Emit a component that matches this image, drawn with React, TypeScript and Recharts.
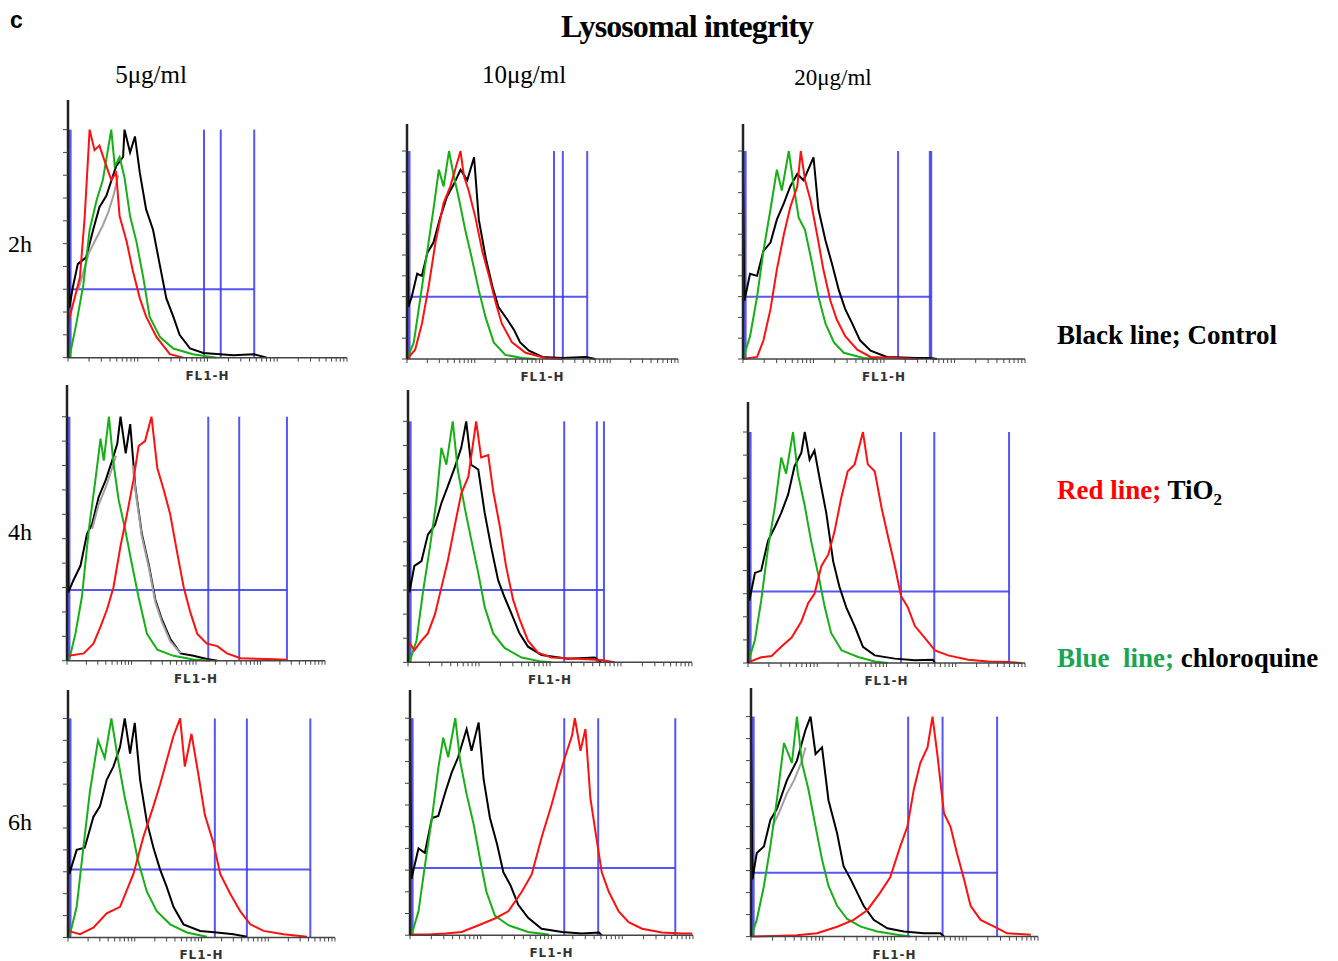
import { LineChart, Line, XAxis, YAxis, ReferenceLine } from 'recharts'

type Pt = [number, number | null]

// x = log decade of FL1-H (0..4), y = relative cell count (% of peak)
const p1Control: Pt[] = [[0,0],[0,88],[0.02,22],[0.07,31],[0.14,41],[0.26,44],[0.36,56],[0.45,66],[0.55,71],[0.69,84],[0.79,88],[0.81,100],[0.89,90],[0.96,97],[1.03,81],[1.12,65],[1.22,56],[1.32,40],[1.41,26],[1.51,18],[1.6,10],[1.75,4],[1.94,2],[2.37,1],[2.66,1.5],[2.85,0]]
const p1Gray: Pt[] = [[0.15,30],[0.3,46],[0.4,52],[0.5,58],[0.58,64],[0.66,72],[0.72,80]]
const p1TiO2: Pt[] = [[0,15],[0.17,35],[0.24,62],[0.31,100],[0.38,91],[0.45,93],[0.55,84],[0.62,78],[0.69,81],[0.74,62],[0.84,51],[0.93,38],[1.03,26],[1.12,18],[1.27,9],[1.46,1.5],[1.65,0]]
const p1Chloro: Pt[] = [[0.02,0],[0.12,15],[0.22,32],[0.31,56],[0.41,69],[0.5,78],[0.62,100],[0.67,84],[0.74,88],[0.81,79],[0.89,62],[0.98,51],[1.08,35],[1.17,18],[1.32,9],[1.51,4],[1.79,1.5],[2.13,0]]

const p2Control: Pt[] = [[0,0],[0,88],[0.02,25],[0.07,30],[0.15,41],[0.22,40],[0.3,51],[0.39,56],[0.49,68],[0.59,78],[0.69,84],[0.79,91],[0.89,86],[0.99,97],[1.06,67],[1.16,49],[1.26,35],[1.35,25],[1.48,19],[1.58,14],[1.67,8],[1.8,4],[2.0,1],[2.29,0.5],[2.64,1],[2.78,0]]
const p2TiO2: Pt[] = [[0,0],[0.12,4.5],[0.22,17],[0.32,35],[0.42,56],[0.54,75],[0.64,83],[0.71,91],[0.79,100],[0.84,88],[0.91,81],[1.01,68],[1.11,52],[1.21,40],[1.31,27],[1.4,17],[1.55,8],[1.75,3],[2.04,0.5],[2.29,0]]
const p2Chloro: Pt[] = [[0,0],[0.1,8],[0.2,30],[0.3,52],[0.39,72],[0.47,91],[0.54,83],[0.62,100],[0.69,88],[0.76,78],[0.86,62],[0.96,48],[1.06,33],[1.16,20],[1.28,8],[1.45,2],[1.7,0.5],[1.9,0]]

const p3Control: Pt[] = [[0,0],[0,88],[0.02,28],[0.1,41],[0.2,40],[0.29,52],[0.39,56],[0.48,67],[0.58,75],[0.67,83],[0.77,89],[0.86,86],[1.0,97],[1.07,72],[1.17,57],[1.26,46],[1.36,33],[1.45,24],[1.55,17],[1.66,9],[1.81,4],[2.04,1],[2.47,0.5],[2.66,0.5],[2.75,0]]
const p3TiO2: Pt[] = [[0,0],[0.2,1],[0.29,9],[0.39,24],[0.48,43],[0.58,60],[0.67,73],[0.77,83],[0.82,100],[0.88,86],[0.96,76],[1.05,60],[1.14,43],[1.24,28],[1.33,19],[1.45,11],[1.62,4.5],[1.81,1],[2.18,0.5],[2.47,0]]
const p3Chloro: Pt[] = [[0,0],[0.1,11],[0.2,30],[0.29,52],[0.39,72],[0.48,91],[0.55,81],[0.65,100],[0.72,83],[0.79,68],[0.88,62],[0.98,46],[1.07,30],[1.17,17],[1.29,8],[1.43,3],[1.71,0.5],[1.9,0]]

const p4Control: Pt[] = [[0,0],[0,88],[0.02,28],[0.1,33],[0.21,39],[0.31,52],[0.39,56],[0.49,67],[0.6,74],[0.7,82],[0.78,89],[0.83,100],[0.91,85],[0.98,97],[1.06,71],[1.16,52],[1.27,39],[1.37,25],[1.47,17],[1.6,9],[1.76,3],[1.96,2],[2.17,0.7],[2.33,0]]
const p4Gray: Pt[] = [[0.39,54],[0.49,64],[0.6,71],[0.7,79],[0.76,84],[0.9,null],[1.02,80],[1.06,70],[1.16,51],[1.27,38],[1.37,24],[1.47,16],[1.6,8],[1.76,3]]
const p4TiO2: Pt[] = [[0.03,2],[0.26,3],[0.41,7],[0.52,14],[0.62,21],[0.72,30],[0.83,47],[0.93,60],[1.03,74],[1.11,88],[1.21,90],[1.31,100],[1.4,79],[1.5,70],[1.6,60],[1.71,44],[1.81,30],[1.91,20],[2.02,11],[2.17,7],[2.33,6],[2.48,3],[2.69,1],[3.1,0.7],[3.41,0.4]]
const p4Chloro: Pt[] = [[0.03,0],[0.13,11],[0.23,26],[0.34,54],[0.44,74],[0.52,91],[0.57,82],[0.65,100],[0.72,81],[0.8,66],[0.9,54],[1.01,39],[1.11,26],[1.24,11],[1.4,4.5],[1.65,2],[1.96,0.5],[2.22,0]]

const p5Control: Pt[] = [[0,0],[0,88],[0.02,29],[0.09,40],[0.19,42],[0.28,53],[0.38,57],[0.47,66],[0.56,73],[0.66,81],[0.75,89],[0.82,100],[0.89,82],[0.99,80],[1.08,62],[1.17,48],[1.27,34],[1.36,27],[1.46,20],[1.57,12],[1.69,6.5],[1.88,3],[2.25,1.5],[2.63,2],[2.72,0]]
const p5TiO2: Pt[] = [[0,9],[0.09,5],[0.19,9],[0.28,12],[0.38,20],[0.47,31],[0.56,42],[0.66,57],[0.75,70],[0.85,77],[0.96,100],[1.03,85],[1.13,86],[1.2,71],[1.29,57],[1.38,40],[1.48,26],[1.57,18],[1.69,9],[1.83,4],[2.02,2],[2.39,1.5],[2.72,1],[2.91,0]]
const p5Chloro: Pt[] = [[0.02,0],[0.12,9],[0.21,29],[0.31,48],[0.4,67],[0.47,89],[0.54,82],[0.63,100],[0.7,80],[0.8,64],[0.89,51],[0.99,37],[1.08,23],[1.2,12],[1.36,6],[1.6,2],[1.88,0.3],[2.02,0]]

const p6Control: Pt[] = [[0,0],[0,88],[0.02,27],[0.1,39],[0.19,40],[0.29,53],[0.39,59],[0.48,65],[0.58,73],[0.67,85],[0.77,91],[0.82,100],[0.89,88],[0.96,92],[1.04,79],[1.13,65],[1.23,44],[1.32,33],[1.42,24],[1.54,16],[1.66,7],[1.83,3.3],[2.12,1.9],[2.41,1.2],[2.67,1.4],[2.7,0]]
const p6TiO2: Pt[] = [[0.02,0.5],[0.19,2.5],[0.34,3],[0.48,7],[0.63,11],[0.77,18],[0.87,26],[0.96,30],[1.06,42],[1.16,47],[1.25,57],[1.35,72],[1.44,83],[1.54,86],[1.66,100],[1.73,86],[1.83,83],[1.93,67],[2.02,55],[2.12,42],[2.21,29],[2.31,24],[2.41,16],[2.55,11],[2.7,5.5],[2.89,3.3],[3.18,1.4],[3.47,0.7],[3.75,0.4],[3.95,0]]
const p6Chloro: Pt[] = [[0,0],[0.1,10],[0.19,27],[0.29,50],[0.39,68],[0.48,89],[0.55,82],[0.65,100],[0.72,82],[0.82,68],[0.91,53],[1.01,39],[1.11,24],[1.2,13],[1.35,5.5],[1.59,2.6],[1.83,0.7],[2.02,0]]

const p7Control: Pt[] = [[0,0],[0,88],[0.02,29],[0.13,40],[0.25,41],[0.38,55],[0.48,60],[0.58,72],[0.68,78],[0.78,87],[0.85,100],[0.93,84],[1.0,98],[1.08,72],[1.18,53],[1.28,41],[1.38,31],[1.48,23],[1.58,14],[1.73,6],[1.98,3],[2.23,2.3],[2.48,1.5],[2.68,0.3]]
const p7TiO2: Pt[] = [[0,3],[0.18,1.5],[0.38,4.5],[0.58,11],[0.78,14],[0.98,29],[1.13,46],[1.28,60],[1.38,70],[1.48,81],[1.58,92],[1.68,100],[1.75,78],[1.85,93],[1.95,75],[2.05,56],[2.18,43],[2.28,29],[2.43,20],[2.58,12],[2.73,6],[2.93,3],[3.23,1.5],[3.58,0.3]]
const p7Chloro: Pt[] = [[0.03,1.5],[0.13,14],[0.23,41],[0.33,67],[0.45,90],[0.55,82],[0.65,100],[0.75,81],[0.85,64],[0.95,50],[1.05,35],[1.18,21],[1.33,12],[1.53,6],[1.78,2.3],[2.08,0.3]]

const p8Control: Pt[] = [[0,0],[0,88],[0.02,26],[0.12,40],[0.21,38],[0.31,54],[0.4,55],[0.5,66],[0.59,75],[0.68,82],[0.8,95],[0.87,85],[0.97,98],[1.04,72],[1.13,54],[1.23,42],[1.32,29],[1.42,23],[1.53,14],[1.67,8],[1.86,3],[2.15,1.5],[2.43,0.8],[2.67,1.2],[2.71,0]]
const p8TiO2: Pt[] = [[0,0.3],[0.26,0.3],[0.5,0.8],[0.73,1.5],[0.97,4.6],[1.2,7.7],[1.39,11],[1.58,20],[1.72,28],[1.86,45],[2.0,60],[2.1,72],[2.19,82],[2.29,92],[2.33,100],[2.41,85],[2.48,95],[2.55,63],[2.62,48],[2.71,29],[2.81,20],[2.95,11],[3.09,6],[3.28,3],[3.56,1.2],[3.84,0.8],[3.99,0.8]]
const p8Chloro: Pt[] = [[0.02,0],[0.12,11],[0.21,32],[0.31,54],[0.4,77],[0.47,91],[0.54,82],[0.64,100],[0.71,80],[0.8,65],[0.9,51],[0.99,35],[1.08,20],[1.2,9],[1.39,4.6],[1.67,1.5],[1.96,0.3]]

const p9Control: Pt[] = [[0,0],[0,88],[0.02,26],[0.08,38],[0.18,41],[0.27,53],[0.36,58],[0.5,71],[0.64,80],[0.76,94],[0.83,100],[0.9,83],[0.99,86],[1.08,62],[1.2,47],[1.29,32],[1.39,26],[1.48,20],[1.57,14],[1.71,7.6],[1.9,3.8],[2.13,2.3],[2.41,1.5],[2.64,1.5],[2.69,0]]
const p9Gray: Pt[] = [[0.3,50],[0.4,57],[0.5,65],[0.6,71],[0.7,79],[0.76,86]]
const p9TiO2: Pt[] = [[0,0],[0.32,0.3],[0.64,0.6],[0.92,1.5],[1.2,4.5],[1.43,7.6],[1.62,12],[1.8,20],[1.94,27],[2.08,41],[2.18,50],[2.27,67],[2.36,79],[2.46,86],[2.53,100],[2.6,82],[2.69,56],[2.78,50],[2.87,38],[2.97,26],[3.06,14],[3.2,7.6],[3.39,4.5],[3.57,1.5],[3.9,0.8]]
const p9Chloro: Pt[] = [[0,0],[0.08,7.6],[0.18,23],[0.27,41],[0.36,62],[0.46,88],[0.57,79],[0.64,100],[0.71,79],[0.8,67],[0.9,50],[0.99,35],[1.08,23],[1.2,14],[1.34,8],[1.53,4.5],[1.76,2.3],[2.04,0.8],[2.22,0]]

// marker gates (decades) and the horizontal gate level (%)
const p1Gates = [0.03, 1.95, 2.19, 2.67]
const p2Gates = [0.03, 2.17, 2.3, 2.66]
const p3Gates = [0.03, 2.2, 2.65, 2.67]
const p4Gates = [0.03, 2.19, 2.67, 3.41]
const p5Gates = [0.03, 2.2, 2.66, 2.76]
const p6Gates = [0.03, 2.21, 2.69, 3.77]
const p7Gates = [0.03, 2.2, 2.68, 3.63]
const p8Gates = [0.03, 2.18, 2.66, 3.75]
const p9Gates = [0.03, 2.19, 2.67, 3.43]
const gateLevels = [30, 30, 30, 29, 30, 31, 31, 31, 29]

const doses = ['5μg/ml', '10μg/ml', '20μg/ml']
const times = ['2h', '4h', '6h']

const DECADES = [0, 1, 2, 3]
const MANTISSA = [1, 2, 3, 4, 5, 6, 7, 8, 9]
const LOG_TICKS = [...DECADES.flatMap(d => MANTISSA.map(m => d + Math.log10(m))), 4]
const Y_TICKS = [0, 10, 20, 30, 40, 50, 60, 70, 80, 90, 100]

// panel placement: plot left, plot bottom, plot width, pixels for 100%
const geometry = [
  { left: 68, bottom: 358, w: 279, h100: 228 },
  { left: 407, bottom: 359, w: 271, h100: 208 },
  { left: 743, bottom: 359, w: 282, h100: 208 },
  { left: 67, bottom: 661, w: 258, h100: 244 },
  { left: 408, bottom: 662, w: 284, h100: 241 },
  { left: 748, bottom: 663, w: 277, h100: 231 },
  { left: 68, bottom: 937, w: 267, h100: 219 },
  { left: 410, bottom: 935, w: 283, h100: 217 },
  { left: 751, bottom: 937, w: 287, h100: 220 },
]

const panels = [
  { control: p1Control, gray: p1Gray, tio2: p1TiO2, chloro: p1Chloro, gates: p1Gates },
  { control: p2Control, tio2: p2TiO2, chloro: p2Chloro, gates: p2Gates },
  { control: p3Control, tio2: p3TiO2, chloro: p3Chloro, gates: p3Gates },
  { control: p4Control, gray: p4Gray, tio2: p4TiO2, chloro: p4Chloro, gates: p4Gates },
  { control: p5Control, tio2: p5TiO2, chloro: p5Chloro, gates: p5Gates },
  { control: p6Control, tio2: p6TiO2, chloro: p6Chloro, gates: p6Gates },
  { control: p7Control, tio2: p7TiO2, chloro: p7Chloro, gates: p7Gates },
  { control: p8Control, tio2: p8TiO2, chloro: p8Chloro, gates: p8Gates },
  { control: p9Control, gray: p9Gray, tio2: p9TiO2, chloro: p9Chloro, gates: p9Gates },
]

const BLUE = '#3838f2'
const SERIF = '"Liberation Serif", "Times New Roman", serif'

const rows = (pts: Pt[]) => pts.map(([x, y]) => ({ x, y }))

function Histogram({ index }: { index: number }) {
  const g = geometry[index]
  const p: any = panels[index]
  const level = gateLevels[index]
  const yAxisW = 10
  const xAxisH = 26
  const plotH = g.h100 * 1.13
  const lastGate = p.gates[p.gates.length - 1]

  const lineProps = { dataKey: 'y', type: 'linear' as const, dot: false, isAnimationActive: false, strokeWidth: 2 }

  return (
    <div style={{ position: 'absolute', left: g.left - yAxisW, top: g.bottom - plotH }}>
      <LineChart width={g.w + yAxisW + 4} height={plotH + xAxisH} margin={{ top: 0, right: 4, bottom: 0, left: 0 }}>
        <XAxis
          type="number"
          dataKey="x"
          domain={[0, 4]}
          ticks={LOG_TICKS}
          interval={0}
          tickFormatter={() => ''}
          tickSize={4}
          height={xAxisH}
          axisLine={{ stroke: '#444', strokeWidth: 1.5 }}
          tickLine={{ stroke: '#444' }}
          label={{
            value: 'FL1-H',
            position: 'insideBottom',
            offset: 4,
            style: { fontFamily: '"DejaVu Sans", Verdana, sans-serif', fontSize: 12, fontWeight: 'bold', fill: '#333', letterSpacing: 1 },
          }}
        />
        <YAxis
          type="number"
          domain={[0, 113]}
          ticks={Y_TICKS}
          width={yAxisW}
          interval={0}
          tickFormatter={() => ''}
          tickSize={5}
          axisLine={{ stroke: '#222', strokeWidth: 2.5 }}
          tickLine={{ stroke: '#444' }}
        />
        {p.gates.map((gx: number, i: number) => (
          <ReferenceLine
            key={`g-${i}`}
            segment={[{ x: gx, y: 0 }, { x: gx, y: 100 }]}
            stroke={BLUE}
            strokeWidth={i === 0 ? 3 : 2}
            strokeOpacity={0.85}
          />
        ))}
        <ReferenceLine
          segment={[{ x: p.gates[0], y: level }, { x: lastGate, y: level }]}
          stroke={BLUE}
          strokeWidth={2}
          strokeOpacity={0.85}
        />
        <Line {...lineProps} data={rows(p.control)} stroke="#000" />
        {p.gray && <Line {...lineProps} data={rows(p.gray)} stroke="#a0a0a0" />}
        <Line {...lineProps} data={rows(p.chloro)} stroke="#16b016" />
        <Line {...lineProps} data={rows(p.tio2)} stroke="#ff1010" />
      </LineChart>
    </div>
  )
}

const abs = (left: number, top: number, extra: any = {}) => ({
  position: 'absolute' as const, left, top, lineHeight: 1, whiteSpace: 'nowrap' as const, ...extra,
})

export default function App() {
  return (
    <div style={{ position: 'absolute', left: 0, top: 0, width: 1338, height: 961, background: '#fff', fontFamily: SERIF, color: '#000' }}>
      <div style={abs(10, 9, { fontFamily: 'Arial, "Liberation Sans", sans-serif', fontWeight: 'bold', fontSize: 23 })}>c</div>
      <div style={abs(687, 10, { transform: 'translateX(-50%)', fontWeight: 'bold', fontSize: 32, letterSpacing: -0.9 })}>
        Lysosomal integrity
      </div>

      <div style={abs(151, 62, { transform: 'translateX(-50%)', fontSize: 25 })}>{doses[0]}</div>
      <div style={abs(524, 62, { transform: 'translateX(-50%)', fontSize: 25 })}>{doses[1]}</div>
      <div style={abs(833, 66, { transform: 'translateX(-50%)', fontSize: 23 })}>{doses[2]}</div>

      <div style={abs(8, 232, { fontSize: 24 })}>{times[0]}</div>
      <div style={abs(8, 520, { fontSize: 24 })}>{times[1]}</div>
      <div style={abs(8, 810, { fontSize: 24 })}>{times[2]}</div>

      {geometry.map((_, i) => <Histogram key={i} index={i} />)}

      <div style={abs(1057, 322, { fontWeight: 'bold', fontSize: 27 })}>Black line; Control</div>
      <div style={abs(1057, 477, { fontWeight: 'bold', fontSize: 27 })}>
        <span style={{ color: '#ff0000' }}>Red line;</span> TiO<sub style={{ fontSize: 17, verticalAlign: -6 }}>2</sub>
      </div>
      <div style={abs(1057, 645, { fontWeight: 'bold', fontSize: 27 })}>
        <span style={{ color: '#1aa550' }}>Blue{'\u00a0\u00a0'}line;</span> chloroquine
      </div>
    </div>
  )
}
